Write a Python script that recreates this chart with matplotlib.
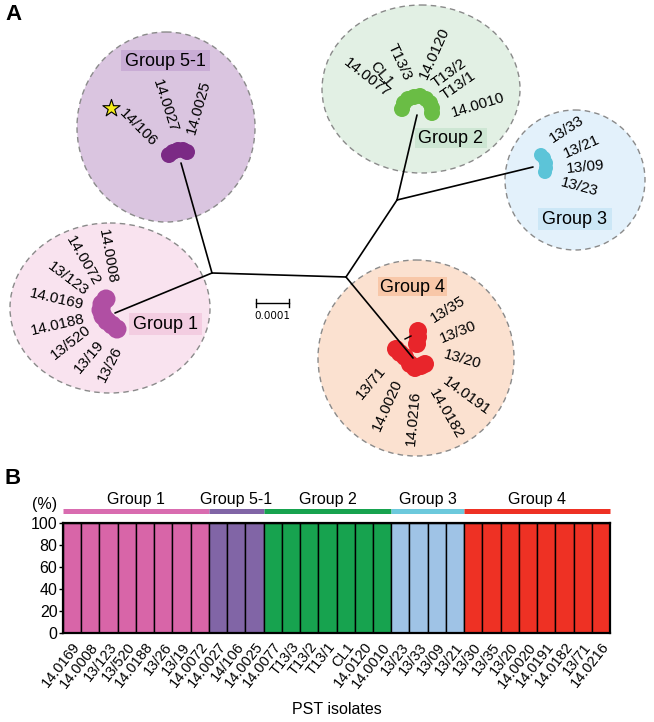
import matplotlib
matplotlib.use('Agg')
import matplotlib.pyplot as plt
from matplotlib.patches import Ellipse, Circle, Rectangle

plt.rcParams['font.family'] = ['Liberation Sans', 'DejaVu Sans']

# ------------------------------------------------------------------ data
group_names = ['Group 1', 'Group 5-1', 'Group 2', 'Group 3', 'Group 4']

group1_isolates = ['14.0169', '14.0008', '13/123', '13/520', '14.0188', '13/26', '13/19', '14.0072']
group51_isolates = ['14.0027', '14/106', '14.0025']
group2_isolates = ['14.0077', 'T13/3', 'T13/2', 'T13/1', 'CL1', '14.0120', '14.0010']
group3_isolates = ['13/23', '13/33', '13/09', '13/21']
group4_isolates = ['13/30', '13/35', '13/20', '14.0020', '14.0191', '14.0182', '13/71', '14.0216']

group1_pct = [100, 100, 100, 100, 100, 100, 100, 100]
group51_pct = [100, 100, 100]
group2_pct = [100, 100, 100, 100, 100, 100, 100]
group3_pct = [100, 100, 100, 100]
group4_pct = [100, 100, 100, 100, 100, 100, 100, 100]

y_ticks = [0, 20, 40, 60, 80, 100]

# tree layout (pixel coordinates)
node_x = [212, 346, 397, 181, 115, 417, 533, 413]
node_y = [273, 277, 200, 163, 313, 115, 167, 358]
edges = [(0, 1), (0, 3), (0, 4), (1, 2), (1, 7), (2, 5), (2, 6)]

# leaf labels on the tree
tree_g51_labels = ['14/106', '14.0027', '14.0025']
tree_g2_labels = ['14.0077', 'CL1', 'T13/3', '14.0120', 'T13/2', 'T13/1', '14.0010']
tree_g3_labels = ['13/33', '13/21', '13/09', '13/23']
tree_g1_labels = ['14.0008', '14.0072', '13/123', '14.0169', '14.0188', '13/520', '13/19', '13/26']
tree_g4_labels = ['13/35', '13/30', '13/20', '14.0191', '14.0182', '14.0216', '14.0020', '13/71']

# ------------------------------------------------------------------ styles
bar_colors = ['#d865a8', '#8165a6', '#17a34f', '#9fc3e6', '#ee3124']
header_colors = ['#d96cb0', '#8165a6', '#17a34f', '#6cc9dc', '#ee3124']

fig = plt.figure(figsize=(6.54, 7.22), dpi=100)

# ================================================================ Panel A
ax = fig.add_axes([0, 0, 1, 1])
ax.set_xlim(0, 654)
ax.set_ylim(722, 0)
ax.axis('off')

circles = {
    'Group 5-1': (166, 127, 178, 190, '#dac5e0'),
    'Group 2': (421, 89, 198, 168, '#e2f0e4'),
    'Group 3': (575, 180, 140, 140, '#e3f1fb'),
    'Group 1': (110, 308, 200, 170, '#f9e3ef'),
    'Group 4': (416, 358, 196, 196, '#fbe1d0'),
}
for name, (cx, cy, w, h, fc) in circles.items():
    ax.add_patch(Ellipse((cx, cy), w, h, facecolor=fc, edgecolor='#8a8a8a',
                         lw=1.0, ls=(0, (4, 3)), zorder=1))

boxes = {
    'Group 5-1': (121, 50, 89, 21, '#c9acd5'),
    'Group 2': (415, 128, 72, 20, '#cde6d3'),
    'Group 3': (538, 208, 74, 22, '#cce7f6'),
    'Group 1': (129, 313, 73, 22, '#f3cde1'),
    'Group 4': (378, 277, 69, 19, '#f8c7a8'),
}
for name, (x0, y0, w, h, fc) in boxes.items():
    ax.add_patch(Rectangle((x0, y0), w, h, facecolor=fc, edgecolor='none', zorder=2))
    ax.text(x0 + w / 2, y0 + h / 2 + 0.5, name, ha='center', va='center',
            fontsize=13, zorder=5)

for a, b in edges:
    ax.plot([node_x[a], node_x[b]], [node_y[a], node_y[b]], color='black',
            lw=1.2, zorder=4, solid_capstyle='round')
ax.plot([405, 411], [339, 336], color='black', lw=1.0, zorder=4)

# scale bar
ax.plot([256, 289], [303, 303], color='black', lw=1.0)
ax.plot([256, 256], [299, 307], color='black', lw=1.0)
ax.plot([289, 289], [299, 307], color='black', lw=1.0)
ax.text(272.5, 316, '0.0001', ha='center', va='center', fontsize=7.5,
        family='DejaVu Sans')

blobs = {
    'Group 5-1': ([169, 173, 178, 183, 187], [155, 152, 150, 150, 152], 8, '#7b2a85'),
    'Group 2': ([402, 404, 408, 414, 420, 426, 430, 432, 432],
                [109, 103, 99, 97, 96, 99, 103, 108, 113], 8, '#6abd45'),
    'Group 3': ([541, 544, 546, 546, 545], [155, 158, 163, 168, 172], 7, '#5cc4d8'),
    'Group 1': ([106, 102, 101, 103, 107, 112, 117], [299, 304, 310, 316, 321, 325, 329], 9.5, '#b04fa3'),
    'Group 4': ([418, 418, 417, 396, 400, 405, 410, 415, 421, 425],
                [331, 337, 344, 349, 353, 357, 364, 368, 366, 364], 9, '#e8252b'),
}
for name, (bx, by, r, col) in blobs.items():
    for x, y in zip(bx, by):
        ax.add_patch(Circle((x, y), r, facecolor=col, edgecolor='none', zorder=3))

leaf_pos = {
    'g51': (tree_g51_labels, [(138, 128, -45), (165, 106, -72), (199, 107, 74)]),
    'g2': (tree_g2_labels, [(367, 78, -38), (381, 74, -50), (400, 62, -65),
                            (434, 53, 66), (449, 73, 36), (458, 86, 35), (478, 105, 17)]),
    'g3': (tree_g3_labels, [(567, 129, 33), (582, 147, 24), (585, 167, 6), (579, 187, -15)]),
    'g1': (tree_g1_labels, [(108, 256, -80), (83, 261, -60), (68, 279, -37), (57, 299, -13),
                            (58, 325, 13), (71, 342, 38), (89, 357, 50), (110, 364, 63)]),
    'g4': (tree_g4_labels, [(448, 309, 32), (458, 332, 22), (462, 359, -16), (467, 396, -36),
                            (446, 414, -60), (413, 418, 85), (387, 405, 66), (371, 383, 50)]),
}
for key, (labels, pos) in leaf_pos.items():
    for lab, (x, y, ang) in zip(labels, pos):
        ax.text(x, y, lab, rotation=ang, rotation_mode='anchor', ha='center',
                va='center', fontsize=11, zorder=5)

ax.scatter([111], [108], marker='*', s=170, color='#f5ec1a', edgecolor='black',
           linewidth=0.8, zorder=6)

ax.text(13, 15, 'A', ha='center', va='center', fontsize=16, fontweight='bold')
ax.text(13, 478, 'B', ha='center', va='center', fontsize=16, fontweight='bold')

# ================================================================ Panel B
groups_isolates = [group1_isolates, group51_isolates, group2_isolates,
                   group3_isolates, group4_isolates]
groups_pct = [group1_pct, group51_pct, group2_pct, group3_pct, group4_pct]

axb = fig.add_axes([63 / 654, (722 - 633) / 722, 547 / 654, 110 / 722])
all_labels = []
start = 0
spans = []
for names, vals, col in zip(groups_isolates, groups_pct, bar_colors):
    xs = list(range(start, start + len(names)))
    axb.bar(xs, vals, width=1.0, color=col, edgecolor='black', linewidth=1.0, zorder=2)
    spans.append((start, start + len(names)))
    all_labels += names
    start += len(names)

n = len(all_labels)
axb.set_xlim(-0.5, n - 0.5)
axb.set_ylim(0, 100)
axb.set_yticks(y_ticks)
axb.set_yticklabels([str(v) for v in y_ticks], fontsize=11.5)
axb.tick_params(axis='y', length=3, width=1, pad=1)
axb.set_xticks(range(n))
axb.set_xticklabels(all_labels, fontsize=10.5)
axb.tick_params(axis='x', length=0, pad=5)
for t in axb.get_xticklabels():
    t.set_rotation(52)
    t.set_ha('right')
    t.set_va('top')
    t.set_rotation_mode('anchor')
for s in axb.spines.values():
    s.set_linewidth(1.6)

for (a, b), gname, hc in zip(spans, group_names, header_colors):
    axb.plot([a - 0.5, b - 0.5], [111, 111], color=hc, lw=3.6,
             solid_capstyle='butt', clip_on=False)
    axb.text((a + b - 1) / 2, 121, gname, ha='center', va='center', fontsize=11.5,
             clip_on=False)

fig.text(45 / 654, 1 - 504 / 722, '(%)', ha='center', va='center', fontsize=11.5)
fig.text(337 / 654, 1 - 710 / 722, 'PST isolates', ha='center', va='center', fontsize=11.5)

fig.savefig('out.png', dpi=100)
